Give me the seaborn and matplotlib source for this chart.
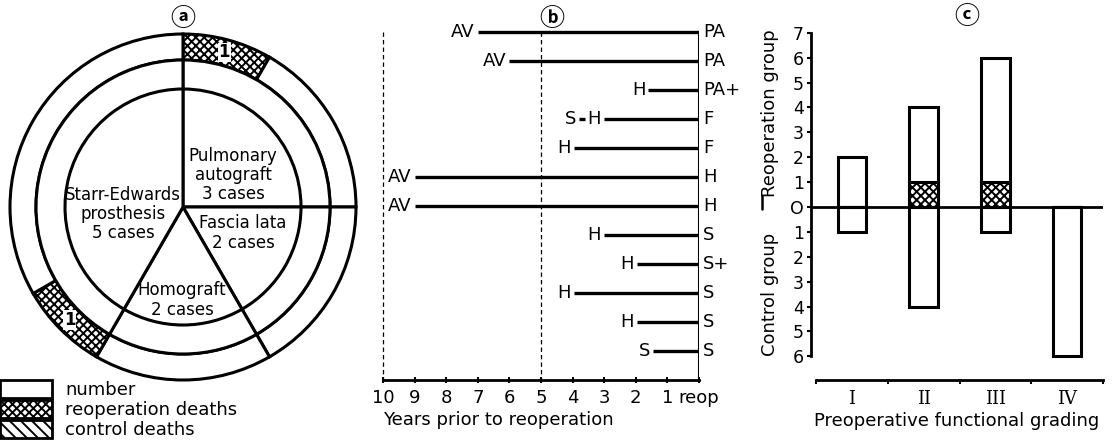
import matplotlib
matplotlib.use('Agg')
import matplotlib.pyplot as plt
import seaborn as sns
import pandas as pd
import numpy as np
from matplotlib.patches import Patch
from matplotlib.lines import Line2D

# (a) valve used at reoperation, cases per type
valve_labels = ['Pulmonary\nautograft\n3 cases', 'Fascia lata\n2 cases',
                'Homograft\n2 cases', 'Starr-Edwards\nprosthesis\n5 cases']
valve_cases = [3, 2, 2, 5]
# outer ring, clockwise from top: deaths split out of each type
ring_values = [1, 2, 2, 2, 1, 4]
ring_is_death = [True, False, False, False, True, False]

# (b) years prior to reoperation of the previous valve
start_years = [7, 6, 1.6, 3.0, 3.95, 9, 9, 3.0, 1.95, 3.95, 1.95, 1.45]
left_labels = ['AV', 'AV', 'H', 'H', 'H', 'AV', 'AV', 'H', 'H', 'H', 'H', 'S']
right_labels = ['PA', 'PA', 'PA+', 'F', 'F', 'H', 'H', 'S', 'S+', 'S', 'S', 'S']
prior_row = 3
prior_seg = (3.8, 3.6)   # short S before H in row 4
prior_label = 'S'

# (c) preoperative functional grading
grades = ['I', 'II', 'III', 'IV']
reop_counts = [2, 4, 6, 0]
reop_deaths = [0, 1, 1, 0]
control_counts = [1, 4, 1, 6]

sns.set_style('ticks')
plt.rcParams['font.family'] = ['DejaVu Sans', 'Noto Sans CJK JP']
plt.rcParams['hatch.linewidth'] = 1.4
plt.rcParams['axes.linewidth'] = 2
for k in ['text.color', 'axes.labelcolor', 'xtick.color', 'ytick.color', 'axes.edgecolor']:
    plt.rcParams[k] = 'black'

W, H = 1118, 440
fig = plt.figure(figsize=(W / 100, H / 100), dpi=100)
circ_font = ['Noto Sans CJK JP', 'DejaVu Sans']

# ---------- panel a: ring pie ----------
ax_a = fig.add_axes([0, 0, 370 / W, 1])
cx, cy = 183, 233
wedges, _ = ax_a.pie(ring_values, radius=173, center=(cx, cy), startangle=90, counterclock=False,
                     colors=['white'] * len(ring_values),
                     hatch=['xxxx' if d else '' for d in ring_is_death],
                     wedgeprops=dict(width=26, edgecolor='black', linewidth=2.2))
ax_a.pie(valve_cases, radius=147, center=(cx, cy), startangle=90, counterclock=False,
         colors=['white'] * 4, wedgeprops=dict(edgecolor='black', linewidth=2.2))
ax_a.pie(valve_cases, radius=118, center=(cx, cy), startangle=90, counterclock=False,
         colors=['white'] * 4, wedgeprops=dict(edgecolor='black', linewidth=2.2))

for w, d in zip(wedges, ring_is_death):
    if d:
        ang = np.deg2rad((w.theta1 + w.theta2) / 2)
        ax_a.text(cx + 160 * np.cos(ang), cy + 160 * np.sin(ang), '1', ha='center', va='center',
                  fontsize=12, fontweight='bold',
                  bbox=dict(facecolor='white', edgecolor='none', pad=0.5))

label_pos = [(233, 265), (243, 207), (182, 140), (123, 226)]
for (x, y), lab in zip(label_pos, valve_labels):
    ax_a.text(x, y, lab, ha='center', va='center', fontsize=12, linespacing=1.1)

ax_a.set_xlim(0, 370)
ax_a.set_ylim(0, 440)
ax_a.set_aspect('equal')
ax_a.axis('off')

handles = [Patch(facecolor='white', edgecolor='black', linewidth=2, label='number'),
           Patch(facecolor='white', edgecolor='black', linewidth=2, hatch='xxxx', label='reoperation deaths'),
           Patch(facecolor='white', edgecolor='black', linewidth=2, hatch='\\\\\\', label='control deaths')]
ax_a.legend(handles=handles, loc='upper left', bbox_to_anchor=(0, 60 / 440), frameon=False,
            fontsize=13, handlelength=2.9, handleheight=1.15, labelspacing=0.05,
            borderpad=0, borderaxespad=0, handletextpad=0.7)
fig.text(183 / W, 1 - 19 / H, '\u24d0', ha='center', va='center', fontsize=18,
         fontweight='bold', family=circ_font)

# ---------- panel b: years before reoperation ----------
ax_b = fig.add_axes([383 / W, 60 / H, 316 / W, 360 / H])
rows = np.arange(len(start_years))
ax_b.hlines(rows, start_years, 0, color='black', lw=2.4)
ax_b.hlines(prior_row, prior_seg[0], prior_seg[1], color='black', lw=2.4)
ax_b.vlines(0, 0, 12, color='black', lw=2.2)
ax_b.vlines([10, 5], 0, 12, color='black', lw=0.9, linestyles=(0, (3.5, 2.5)), clip_on=False)
for i, (s, l, r) in enumerate(zip(start_years, left_labels, right_labels)):
    ax_b.text(s + 0.1, i, l, ha='right', va='center', fontsize=13)
    ax_b.text(-0.13, i, r, ha='left', va='center', fontsize=13, clip_on=False)
ax_b.text(prior_seg[0] + 0.08, prior_row, prior_label, ha='right', va='center', fontsize=13)

ax_b.set_xlim(10, 0)
ax_b.set_ylim(12, -0.414)
ax_b.set_xticks(range(10, -1, -1), labels=[str(v) for v in range(10, 0, -1)] + ['reop'])
ax_b.set_yticks([])
for sp in ['left', 'right', 'top']:
    ax_b.spines[sp].set_visible(False)
ax_b.tick_params(axis='x', direction='inout', length=5, width=1.5, pad=4, labelsize=13)
ax_b.set_xlabel('Years prior to reoperation', loc='left', fontsize=13, labelpad=3)
fig.text(552 / W, 1 - 19 / H, '\u24d1', ha='center', va='center', fontsize=18,
         fontweight='bold', family=circ_font)

# ---------- panel c: functional grading ----------
ax_c = fig.add_axes([811 / W, 60 / H, 292 / W, 355 / H])
df_c = pd.DataFrame({'grade': grades, 'reop': reop_counts, 'deaths': reop_deaths,
                     'control': [-v for v in control_counts]})
bar_kw = dict(color='white', edgecolor='black', linewidth=2.2, width=0.4, saturation=1, ax=ax_c)
sns.barplot(data=df_c, x='grade', y='reop', **bar_kw)
sns.barplot(data=df_c, x='grade', y='control', **bar_kw)
sns.barplot(data=df_c, x='grade', y='deaths', hatch='xxxx', **bar_kw)
ax_c.axhline(0, color='black', lw=2)

ax_c.set_xlim(-0.57, 3.5)
ax_c.set_ylim(-6.95, 7.31)
ax_c.spines['left'].set_bounds(-6, 7)
ax_c.spines['bottom'].set_bounds(-0.5, 3.5)
ax_c.spines['right'].set_visible(False)
ax_c.spines['top'].set_visible(False)
yt = list(range(7, -7, -1))
ax_c.set_yticks(yt, labels=[str(abs(v)) if v != 0 else 'O' for v in yt])
ax_c.tick_params(axis='y', direction='out', length=3, width=1.5, pad=2, labelsize=12.5)
ax_c.set_xticks([-0.5, 0.5, 1.5, 2.5, 3.5], labels=[''] * 5)
ax_c.set_xticks(range(4), labels=grades, minor=True)
ax_c.tick_params(axis='x', which='major', direction='out', length=3, width=1.5)
ax_c.tick_params(axis='x', which='minor', length=0, pad=7)
for t in ax_c.get_xticklabels(minor=True):
    t.set_fontfamily('DejaVu Serif')
    t.set_fontsize(13)
ax_c.set_xlabel('Preoperative functional grading', fontsize=13, labelpad=3)
ax_c.set_ylabel('')

fig.text(770 / W, 1 - 113 / H, 'Reoperation group', rotation=90, ha='center', va='center', fontsize=13)
fig.text(770 / W, 1 - 294 / H, 'Control group', rotation=90, ha='center', va='center', fontsize=13)
fig.lines.append(Line2D([762 / W, 762 / W], [1 - 196 / H, 1 - 209 / H], transform=fig.transFigure,
                        color='black', lw=1.8))
fig.text(967 / W, 1 - 17 / H, '\u24d2', ha='center', va='center', fontsize=18,
         fontweight='bold', family=circ_font)

fig.savefig('out.png', dpi=100)
